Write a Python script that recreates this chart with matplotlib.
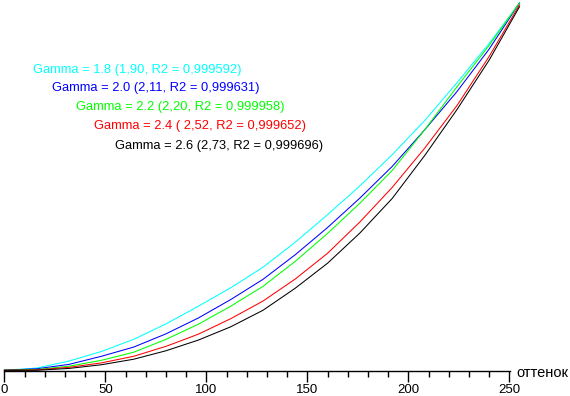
import matplotlib
matplotlib.use("Agg")
import matplotlib.pyplot as plt
from matplotlib.ticker import MultipleLocator

# Data (normalised output vs. input level)
levels = [0, 16, 32, 48, 64, 80, 96, 112, 128, 144, 160, 176, 192, 208, 224, 240, 255]
g18 = [0.002, 0.008, 0.027, 0.053, 0.086, 0.128, 0.176, 0.226, 0.282, 0.350, 0.425, 0.503, 0.588, 0.680, 0.783, 0.890, 1.000]
g20 = [0.002, 0.006, 0.018, 0.040, 0.065, 0.101, 0.144, 0.194, 0.249, 0.316, 0.390, 0.470, 0.556, 0.655, 0.759, 0.875, 1.000]
g22 = [0.002, 0.004, 0.013, 0.029, 0.051, 0.086, 0.127, 0.176, 0.230, 0.298, 0.374, 0.456, 0.545, 0.655, 0.772, 0.885, 1.000]
g24 = [0.002, 0.003, 0.010, 0.022, 0.040, 0.067, 0.100, 0.142, 0.190, 0.250, 0.320, 0.405, 0.499, 0.605, 0.721, 0.855, 0.995]
g26 = [0.002, 0.002, 0.007, 0.017, 0.032, 0.055, 0.084, 0.120, 0.165, 0.225, 0.293, 0.375, 0.469, 0.585, 0.710, 0.845, 0.990]

labels = [
    "Gamma = 1.8 (1,90, R2 = 0,999592)",
    "Gamma = 2.0 (2,11, R2 = 0,999631)",
    "Gamma = 2.2 (2,20, R2 = 0,999958)",
    "Gamma = 2.4 ( 2,52, R2 = 0,999652)",
    "Gamma = 2.6 (2,73, R2 = 0,999696)",
]
colors = ["#00FFFF", "#0000FF", "#00FF00", "#FF0000", "#000000"]
series = [g18, g20, g22, g24, g26]
xticks = [0, 50, 100, 150, 200, 250]
xlabel = "оттенок"

W, H = 570, 396
fig = plt.figure(figsize=(W / 100, H / 100), dpi=100)
fig.patch.set_facecolor("white")

x0_px, x255_px = 4.4, 519.5
y0_px, y1_px = 371.0, 3.0
ax = fig.add_axes([x0_px / W, 1 - y0_px / H, (x255_px - x0_px) / W, (y0_px - y1_px) / H])
ax.set_xlim(0, 255)
ax.set_ylim(0, 1)

for vals, col in zip(series, colors):
    ax.plot(levels, vals, color=col, lw=0.75, clip_on=False, solid_joinstyle="miter")

for s in ["top", "right", "left"]:
    ax.spines[s].set_visible(False)
ax.spines["bottom"].set_bounds(0, 250.5)
ax.spines["bottom"].set_linewidth(1.0)
ax.set_yticks([])
ax.set_xticks(xticks)
ax.xaxis.set_minor_locator(MultipleLocator(10))
ax.tick_params(axis="x", which="major", length=8, width=1.0, pad=1.5, labelsize=9.5)
ax.tick_params(axis="x", which="minor", length=4, width=1.0)
for t in ax.get_xticklabels():
    t.set_fontfamily("Liberation Sans")
    t.set_fontsize(9.5)

text_pos = [(33, 70), (51.5, 88), (76.5, 107), (94, 126), (115, 145.5)]
for (px, py), lab, col in zip(text_pos, labels, colors):
    fig.text(px / W, 1 - py / H, lab, color=col, fontsize=9.3, family="Liberation Sans",
             ha="left", va="center")

fig.text(516 / W, 1 - 373 / H, xlabel, color="black", fontsize=10.5,
         family="Liberation Sans", ha="left", va="center")

fig.savefig("out.png", dpi=100, facecolor="white")
